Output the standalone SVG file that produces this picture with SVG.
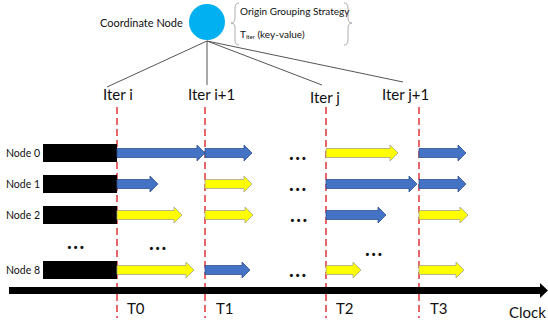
<svg xmlns="http://www.w3.org/2000/svg" width="548" height="325" viewBox="0 0 548 325">
<style>
text{font-family:Lato,"Liberation Sans",Arial,sans-serif;fill:#111}
.lbl{font-size:11px}
.nd{font-size:10.5px}
.sm{font-size:10px}
.iter{font-size:15px}
.t{font-size:15px}
.dots{font-size:20px;font-weight:bold;letter-spacing:1.5px}
.blue{fill:#4472C4;stroke:#2F528F;stroke-width:0.8}
.yel{fill:#FFFF00;stroke:#A5A58A;stroke-width:0.8}
.blk{fill:#000}
.dash{stroke:#E0353A;stroke-width:1.5;stroke-dasharray:7 4;fill:none}
.tree{stroke:#555;stroke-width:1;fill:none}
.brace{stroke:#999;stroke-width:0.8;fill:none}
</style>

<g id="coordinate">
<text class="lbl" x="100" y="27">Coordinate Node</text>
<circle cx="207" cy="22" r="18" fill="#00B0F0"/>
<path class="brace" d="M239 3 Q235 3 235 8 V18 Q235 23 231 23 Q235 23 235 28 V40 Q235 45 239 45"/>
<path class="brace" d="M344 3 Q348 3 348 8 V18 Q348 23 352 23 Q348 23 348 28 V40 Q348 45 344 45"/>
<text class="sm" x="240" y="15">Origin Grouping Strategy</text>
<text class="sm" x="240" y="38">T<tspan font-size="6" dy="1">iter</tspan><tspan dy="-1"> (key-value)</tspan></text>
</g>

<g id="connectors">
<line class="tree" x1="207" y1="41" x2="107" y2="87"/>
<line class="tree" x1="207" y1="41" x2="207" y2="85"/>
<line class="tree" x1="207" y1="41" x2="322" y2="85"/>
<line class="tree" x1="207" y1="41" x2="403" y2="82"/>
</g>

<g id="iters">
<text class="iter" x="103" y="100">Iter i</text>
<text class="iter" x="188" y="100">Iter i+1</text>
<text class="iter" x="310" y="103">Iter j</text>
<text class="iter" x="382" y="100">Iter j+1</text>
</g>

<g id="dashes">
<line class="dash" x1="117" y1="107" x2="117" y2="318"/>
<line class="dash" x1="205" y1="107" x2="205" y2="318"/>
<line class="dash" x1="326" y1="107" x2="326" y2="318"/>
<line class="dash" x1="419" y1="107" x2="419" y2="318"/>
</g>

<g id="node0">
<text class="nd" x="6" y="157">Node 0</text>
<rect class="blk" x="43" y="144" width="74" height="18"/>
<path class="blue" d="M117 148.5 H197 V145 L205 153 L197 161 V157.5 H117 Z"/>
<path class="blue" d="M205 148.5 H244 V145 L252 153 L244 161 V157.5 H205 Z"/>
<text class="dots" x="289" y="160">...</text>
<path class="yel" d="M326 148.5 H390 V145 L398 153 L390 161 V157.5 H326 Z"/>
<path class="blue" d="M419 148.5 H458 V145 L466 153 L458 161 V157.5 H419 Z"/>
</g>

<g id="node1">
<text class="nd" x="6" y="188">Node 1</text>
<rect class="blk" x="43" y="175" width="74" height="18"/>
<path class="blue" d="M117 179.5 H150 V176 L158 184 L150 192 V188.5 H117 Z"/>
<path class="yel" d="M205 179.5 H244 V176 L252 184 L244 192 V188.5 H205 Z"/>
<text class="dots" x="289" y="191">...</text>
<path class="blue" d="M326 179.5 H409 V176 L417 184 L409 192 V188.5 H326 Z"/>
<path class="blue" d="M419 179.5 H458 V176 L466 184 L458 192 V188.5 H419 Z"/>
</g>

<g id="node2">
<text class="nd" x="6" y="219">Node 2</text>
<rect class="blk" x="43" y="206" width="74" height="18"/>
<path class="yel" d="M117 210.5 H174 V207 L182 215 L174 223 V219.5 H117 Z"/>
<path class="yel" d="M205 210.5 H245 V207 L253 215 L245 223 V219.5 H205 Z"/>
<text class="dots" x="290" y="222">...</text>
<path class="blue" d="M326 210.5 H378 V207 L386 215 L378 223 V219.5 H326 Z"/>
<path class="yel" d="M419 210.5 H460 V207 L468 215 L460 223 V219.5 H419 Z"/>
</g>

<g id="ellipsis">
<text class="dots" x="67" y="249">...</text>
<text class="dots" x="149" y="250">...</text>
<text class="dots" x="365" y="256">...</text>
</g>

<g id="node8">
<text class="nd" x="6" y="274">Node 8</text>
<rect class="blk" x="43" y="261" width="74" height="18"/>
<path class="yel" d="M117 265.5 H186 V262 L194 270 L186 278 V274.5 H117 Z"/>
<path class="blue" d="M205 265.5 H242 V262 L250 270 L242 278 V274.5 H205 Z"/>
<text class="dots" x="289" y="277">...</text>
<path class="yel" d="M326 265.5 H353 V262 L361 270 L353 278 V274.5 H326 Z"/>
<path class="yel" d="M419 265.5 H456 V262 L464 270 L456 278 V274.5 H419 Z"/>
</g>

<g id="clock">
<line x1="9" y1="290.5" x2="542" y2="290.5" stroke="#000" stroke-width="7"/>
<path d="M540 283 L548 290.5 L540 298 Z" fill="#000"/>
<text class="t" x="127" y="314">T0</text>
<text class="t" x="216" y="314">T1</text>
<text class="t" x="336" y="314">T2</text>
<text class="t" x="430" y="314">T3</text>
<text class="t" x="509" y="318">Clock</text>
</g>
</svg>
